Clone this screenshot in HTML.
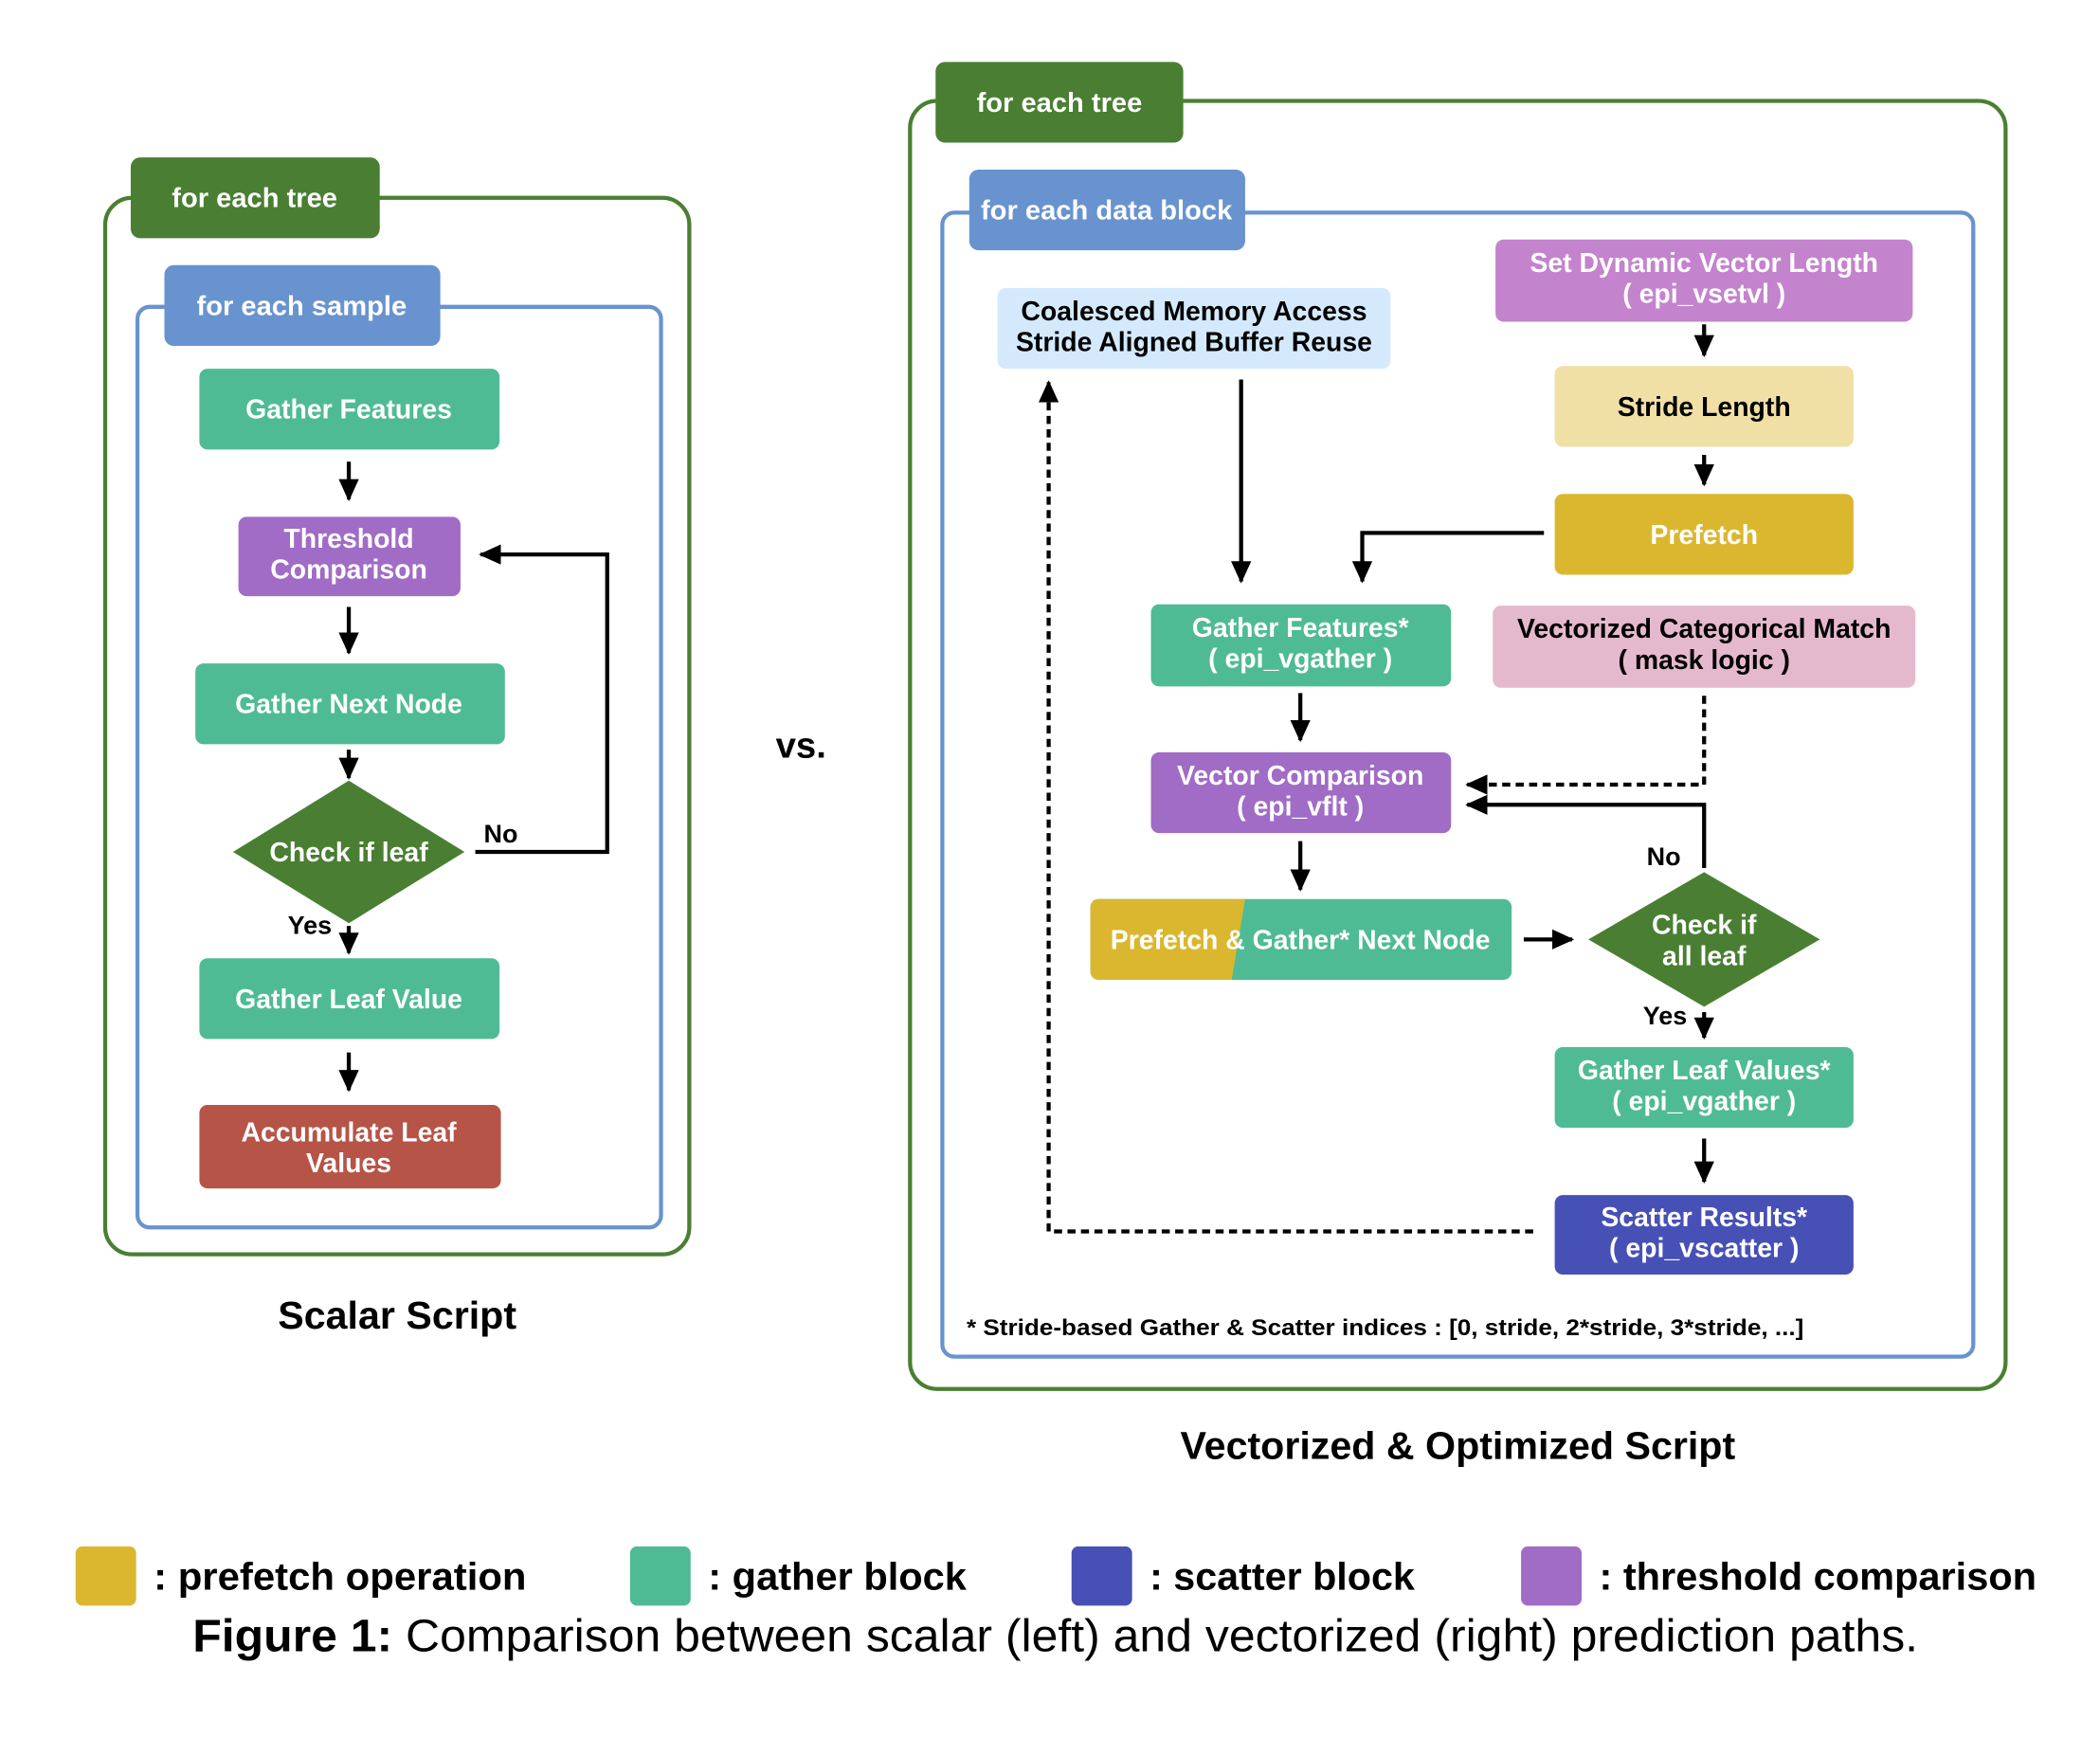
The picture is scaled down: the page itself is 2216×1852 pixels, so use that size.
<!DOCTYPE html>
<html><head><meta charset="utf-8"><style>
html,body{margin:0;padding:0;background:#fff;}
svg{display:block;}
text{font-family:"Liberation Sans",Arial,sans-serif;font-weight:bold;}
</style></head><body>
<svg width="2216" height="1852" viewBox="0 0 1560 1304" xmlns="http://www.w3.org/2000/svg">
<defs>
<marker id="ah" markerWidth="6" markerHeight="6" refX="5" refY="3" orient="auto" markerUnits="strokeWidth">
<path d="M0,0.5 L5.5,3 L0,5.5 Z" fill="#000"/></marker>
</defs>
<rect width="1560" height="1304" fill="#fff"/>
<!-- LEFT -->
<rect x="78" y="147" width="434" height="785" rx="20" fill="none" stroke="#4a7f33" stroke-width="3"/>
<rect x="97" y="117" width="185" height="60" rx="7" fill="#4a7f33"/>
<text x="189" y="154" font-size="20.5" fill="#fff" text-anchor="middle">for each tree</text>
<rect x="102" y="228" width="389" height="684" rx="9" fill="none" stroke="#6893cf" stroke-width="3"/>
<rect x="122" y="197" width="205" height="60" rx="7" fill="#6893cf"/>
<text x="224" y="234" font-size="20.5" fill="#fff" text-anchor="middle">for each sample</text>

<g font-size="20" fill="#fff" text-anchor="middle">
<rect x="148" y="274" width="223" height="60" rx="6" fill="#4fbb94"/>
<text x="259" y="311">Gather Features</text>
<rect x="177" y="384" width="165" height="59" rx="6" fill="#a06cc6"/>
<text x="259" y="407">Threshold</text><text x="259" y="430">Comparison</text>
<rect x="145" y="493" width="230" height="60" rx="6" fill="#4fbb94"/>
<text x="259" y="530">Gather Next Node</text>
<polygon points="259,580 345,633 259,686 173,633" fill="#4a7f33"/>
<text x="259" y="640">Check if leaf</text>
<rect x="148" y="712" width="223" height="60" rx="6" fill="#4fbb94"/>
<text x="259" y="749">Gather Leaf Value</text>
<rect x="148" y="821" width="224" height="62" rx="6" fill="#b65447"/>
<text x="259" y="848">Accumulate Leaf</text><text x="259" y="871">Values</text>
</g>
<g stroke="#000" stroke-width="3" fill="none" marker-end="url(#ah)">
<line x1="259" y1="343" x2="259" y2="371"/>
<line x1="259" y1="451" x2="259" y2="485"/>
<line x1="259" y1="557" x2="259" y2="578"/>
<line x1="259" y1="688" x2="259" y2="708"/>
<line x1="259" y1="782" x2="259" y2="810"/>
<polyline points="353,633 451,633 451,412 357,412"/>
</g>
<text x="372" y="626" font-size="19" fill="#000" text-anchor="middle">No</text>
<text x="230" y="694" font-size="19" fill="#000" text-anchor="middle">Yes</text>
<text x="295" y="987" font-size="29" fill="#000" text-anchor="middle">Scalar Script</text>
<text x="595" y="563" font-size="27" fill="#000" text-anchor="middle">vs.</text>

<!-- RIGHT -->
<rect x="676" y="75" width="814" height="957" rx="20" fill="none" stroke="#4a7f33" stroke-width="3"/>
<rect x="695" y="46" width="184" height="60" rx="7" fill="#4a7f33"/>
<text x="787" y="83" font-size="20.5" fill="#fff" text-anchor="middle">for each tree</text>
<rect x="700" y="158" width="766" height="850" rx="9" fill="none" stroke="#6893cf" stroke-width="3"/>
<rect x="720" y="126" width="205" height="60" rx="7" fill="#6893cf"/>
<text x="822" y="163" font-size="20.5" fill="#fff" text-anchor="middle">for each data block</text>

<g font-size="20" text-anchor="middle">
<rect x="741" y="214" width="292" height="60" rx="6" fill="#d4eafc"/>
<text x="887" y="238" fill="#000">Coalesced Memory Access</text>
<text x="887" y="261" fill="#000">Stride Aligned Buffer Reuse</text>
<rect x="1111" y="178" width="310" height="61" rx="6" fill="#c383cd"/>
<text x="1266" y="202" fill="#fff">Set Dynamic Vector Length</text>
<text x="1266" y="225" fill="#fff">( epi_vsetvl )</text>
<rect x="1155" y="272" width="222" height="60" rx="6" fill="#f0e0a6"/>
<text x="1266" y="309" fill="#000">Stride Length</text>
<rect x="1155" y="367" width="222" height="60" rx="6" fill="#dab72f"/>
<text x="1266" y="404" fill="#fff">Prefetch</text>
<rect x="855" y="449" width="223" height="61" rx="6" fill="#4fbb94"/>
<text x="966" y="473" fill="#fff">Gather Features*</text>
<text x="966" y="496" fill="#fff">( epi_vgather )</text>
<rect x="1109" y="450" width="314" height="61" rx="6" fill="#e5b9cd"/>
<text x="1266" y="474" fill="#000">Vectorized Categorical Match</text>
<text x="1266" y="497" fill="#000">( mask logic )</text>
<rect x="855" y="559" width="223" height="60" rx="6" fill="#a06cc6"/>
<text x="966" y="583" fill="#fff">Vector Comparison</text>
<text x="966" y="606" fill="#fff">( epi_vflt )</text>
<rect x="810" y="668" width="313" height="60" rx="6" fill="#4fbb94"/>
<path d="M816,668 L925,668 L915,728 L816,728 A6,6 0 0 1 810,722 L810,674 A6,6 0 0 1 816,668 Z" fill="#dab72f"/>
<text x="966" y="705" fill="#fff">Prefetch &amp; Gather* Next Node</text>
<polygon points="1266,648 1352,698 1266,748 1180,698" fill="#4a7f33"/>
<text x="1266" y="694" fill="#fff">Check if</text>
<text x="1266" y="717" fill="#fff">all leaf</text>
<rect x="1155" y="778" width="222" height="60" rx="6" fill="#4fbb94"/>
<text x="1266" y="802" fill="#fff">Gather Leaf Values*</text>
<text x="1266" y="825" fill="#fff">( epi_vgather )</text>
<rect x="1155" y="888" width="222" height="59" rx="6" fill="#4750b5"/>
<text x="1266" y="911" fill="#fff">Scatter Results*</text>
<text x="1266" y="934" fill="#fff">( epi_vscatter )</text>
</g>
<g stroke="#000" stroke-width="3" fill="none" marker-end="url(#ah)">
<line x1="1266" y1="241" x2="1266" y2="264"/>
<line x1="1266" y1="338" x2="1266" y2="360"/>
<polyline points="1147,396 1012,396 1012,432"/>
<line x1="922" y1="282" x2="922" y2="432"/>
<line x1="966" y1="515" x2="966" y2="550"/>
<line x1="966" y1="625" x2="966" y2="661"/>
<polyline points="1266,645 1266,598 1090,598"/>
<line x1="1132" y1="698" x2="1168" y2="698"/>
<line x1="1266" y1="752" x2="1266" y2="771"/>
<line x1="1266" y1="846" x2="1266" y2="878"/>
</g>
<g stroke="#000" stroke-width="3" fill="none" stroke-dasharray="6,4" marker-end="url(#ah)">
<polyline points="1266,517 1266,583 1090,583"/>
<polyline points="1139,915 779,915 779,284"/>
</g>
<text x="1236" y="643" font-size="19" fill="#000" text-anchor="middle">No</text>
<text x="1237" y="761" font-size="19" fill="#000" text-anchor="middle">Yes</text>
<text x="718" y="992" font-size="17" fill="#000" textLength="622" lengthAdjust="spacingAndGlyphs">* Stride-based Gather &amp; Scatter indices : [0, stride, 2*stride, 3*stride, ...]</text>
<text x="1083" y="1084" font-size="29" fill="#000" text-anchor="middle">Vectorized &amp; Optimized Script</text>

<!-- LEGEND -->
<g font-size="29" fill="#000">
<rect x="56" y="1149" width="45" height="44" rx="5" fill="#dab72f"/>
<text x="114" y="1181" textLength="277" lengthAdjust="spacingAndGlyphs">: prefetch operation</text>
<rect x="468" y="1149" width="45" height="44" rx="5" fill="#4fbb94"/>
<text x="526" y="1181" textLength="192" lengthAdjust="spacingAndGlyphs">: gather block</text>
<rect x="796" y="1149" width="45" height="44" rx="5" fill="#4750b5"/>
<text x="854" y="1181" textLength="197" lengthAdjust="spacingAndGlyphs">: scatter block</text>
<rect x="1130" y="1149" width="45" height="44" rx="5" fill="#a06cc6"/>
<text x="1188" y="1181" textLength="325" lengthAdjust="spacingAndGlyphs">: threshold comparison</text>
</g>
<text x="784" y="1227" font-size="34" fill="#000" text-anchor="middle" textLength="1282" lengthAdjust="spacingAndGlyphs"><tspan font-weight="bold">Figure 1:</tspan><tspan font-weight="normal"> Comparison between scalar (left) and vectorized (right) prediction paths.</tspan></text>
</svg>
</body></html>
